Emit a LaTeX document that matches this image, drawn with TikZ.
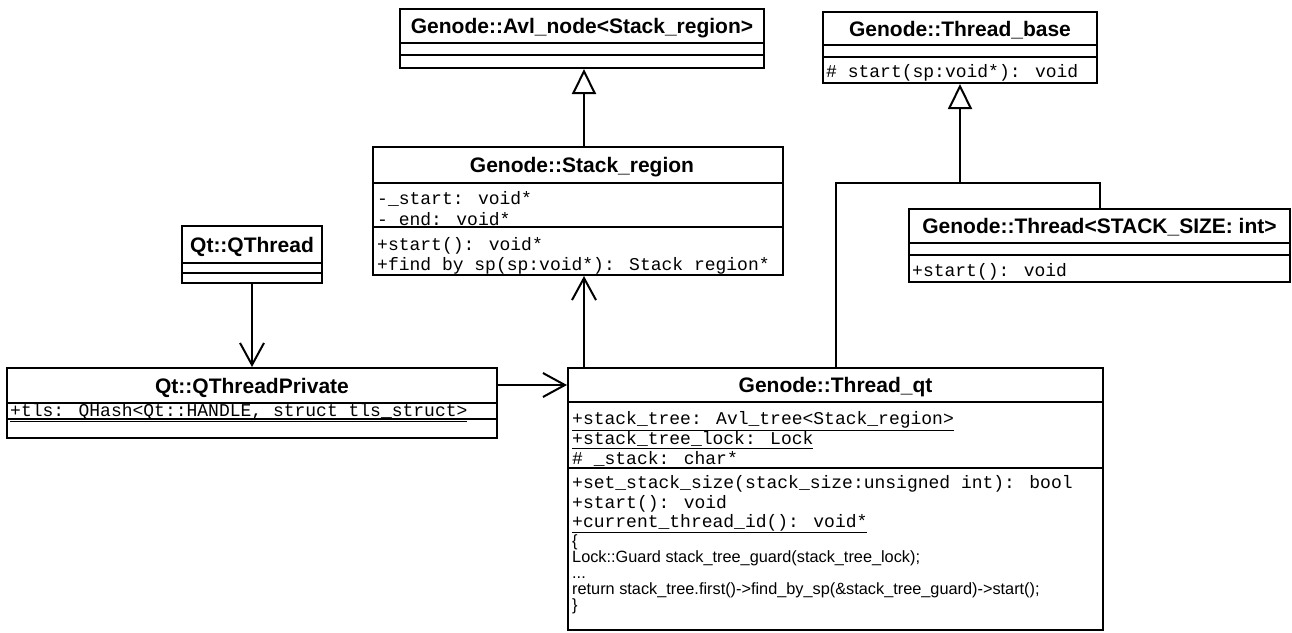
\documentclass[tikz,border=0pt]{standalone}
\usepackage{fontspec}
\setmainfont{Liberation Sans}
\newfontfamily\umlmono{Liberation Mono}
\usetikzlibrary{arrows.meta}

\tikzset{
  box/.style={draw,line width=2pt,fill=white,inner sep=0pt},
  sep/.style={line width=2pt},
  title/.style={font=\bfseries\fontsize{21}{24}\selectfont,anchor=base,inner sep=0pt},
  mem/.style={font=\umlmono\fontsize{18}{20}\selectfont,anchor=base west,inner sep=0pt},
  code/.style={font=\fontsize{16.3}{17}\selectfont,anchor=base west,inner sep=0pt},
  link/.style={line width=2pt},
  assoc/.style={line width=2pt,-{Straight Barb[length=22pt,width=24pt,line width=2pt]}},
  inherit/.style={line width=2pt,-{Triangle[open,length=25pt,width=24pt,line width=2pt,fill=white]}},
}

\begin{document}
\begin{tikzpicture}[x=1pt,y=-1pt]
\useasboundingbox (0,0) rectangle (1292,632);

% class boxes
\node[box,minimum width=364pt,minimum height=59pt] (avl) at (582,38.5) {};
\node[box,minimum width=274pt,minimum height=71pt] (tbase) at (960,47.5) {};
\node[box,minimum width=410pt,minimum height=128pt] (sreg) at (578,211) {};
\node[box,minimum width=140pt,minimum height=57pt] (qt) at (252,254.5) {};
\node[box,minimum width=381pt,minimum height=73pt] (thr) at (1099.5,245.5) {};
\node[box,minimum width=490pt,minimum height=70pt] (qtp) at (252,403) {};
\node[box,minimum width=535pt,minimum height=262pt] (tqt) at (835.5,499) {};

% member text
\node[mem] (tbaseM) at (826,77) {\# start(sp:void*): void};
\node[mem] (sregA1) at (377,204) {-\_start: void*};
\node[mem] (sregA2) at (377,225) {-\_end: void*};
\node[mem] (sregM1) at (377,250) {+start(): void*};
\node[mem] (sregM2) at (377,270) {+find by sp(sp:void*): Stack region*};
\node[mem] (thrM) at (912,276) {+start(): void};
\node[mem] (qtpA) at (10,416.5) {\underline{+tls: QHash<Qt::HANDLE, struct tls\_struct>}};
\foreach \txt [count=\i] in {{\underline{+stack\_tree: Avl\_tree<Stack\_region>}},
                            {\underline{+stack\_tree\_lock: Lock}},
                            {\# \_stack: char*}}
  \node[mem] (tqtA\i) at (572,405+19.7*\i) {\txt};
\foreach \txt [count=\i] in {{+set\_stack\_size(stack\_size:unsigned int): bool},
                            {+start(): void},
                            {\underline{+current\_thread\_id(): void*}}}
  \node[mem] (tqtM\i) at (572,469.5+19.3*\i) {\txt};

% method body
\node[code] (tqtC1) at (572,546.8) {\{};
\node[code] (tqtC2) at (572,562.6) {Lock::Guard stack\_tree\_guard(stack\_tree\_lock);};
\node[code] (tqtC3) at (572,578.4) {...};
\node[code] (tqtC4) at (572,594.2) {return stack\_tree.first()->find\_by\_sp(\&stack\_tree\_guard)->start();};
\node[code] (tqtC5) at (572,610) {\}};

% compartments
\foreach \n/\y in {avl/43,avl/55,tbase/45,tbase/57,sreg/183,sreg/227,qt/263,qt/273,
                   thr/243,thr/255,qtp/403,qtp/419,tqt/402,tqt/468}
  \draw[sep] (\n.west |- 0,\y) -- (\n.east |- 0,\y);

% titles
\node[title] (avlT) at (582,33.5) {Genode::Avl\_node<Stack\_region>};
\node[title] (tbaseT) at (960,36) {Genode::Thread\_base};
\node[title] (sregT) at (582,172.5) {Genode::Stack\_region};
\node[title] (qtT) at (252,252) {Qt::QThread};
\node[title] (thrT) at (1099.5,233.5) {Genode::Thread<STACK\_SIZE: int>};
\node[title] (qtpT) at (252,393) {Qt::QThreadPrivate};
\node[title] (tqtT) at (835.5,392.5) {Genode::Thread\_qt};

% connectors
\coordinate (p1) at ([yshift=-18pt]qtp.north east);
\coordinate (p2) at ([xshift=17pt]tqt.north west);
\coordinate (jn) at (tbase.south |- 0,183);
\draw[assoc] (qt.south) -- (qt.south |- qtp.north);
\draw[assoc] (p1) -- (p1 -| tqt.west);
\draw[assoc] (p2) -- (p2 |- sreg.south);
\draw[inherit] (p2 |- sreg.north) -- (p2 |- avl.south);
\draw[link] (tqt.north) |- (jn) -| (thr.north);
\draw[inherit] (jn) -- (tbase.south);
\end{tikzpicture}
\end{document}
